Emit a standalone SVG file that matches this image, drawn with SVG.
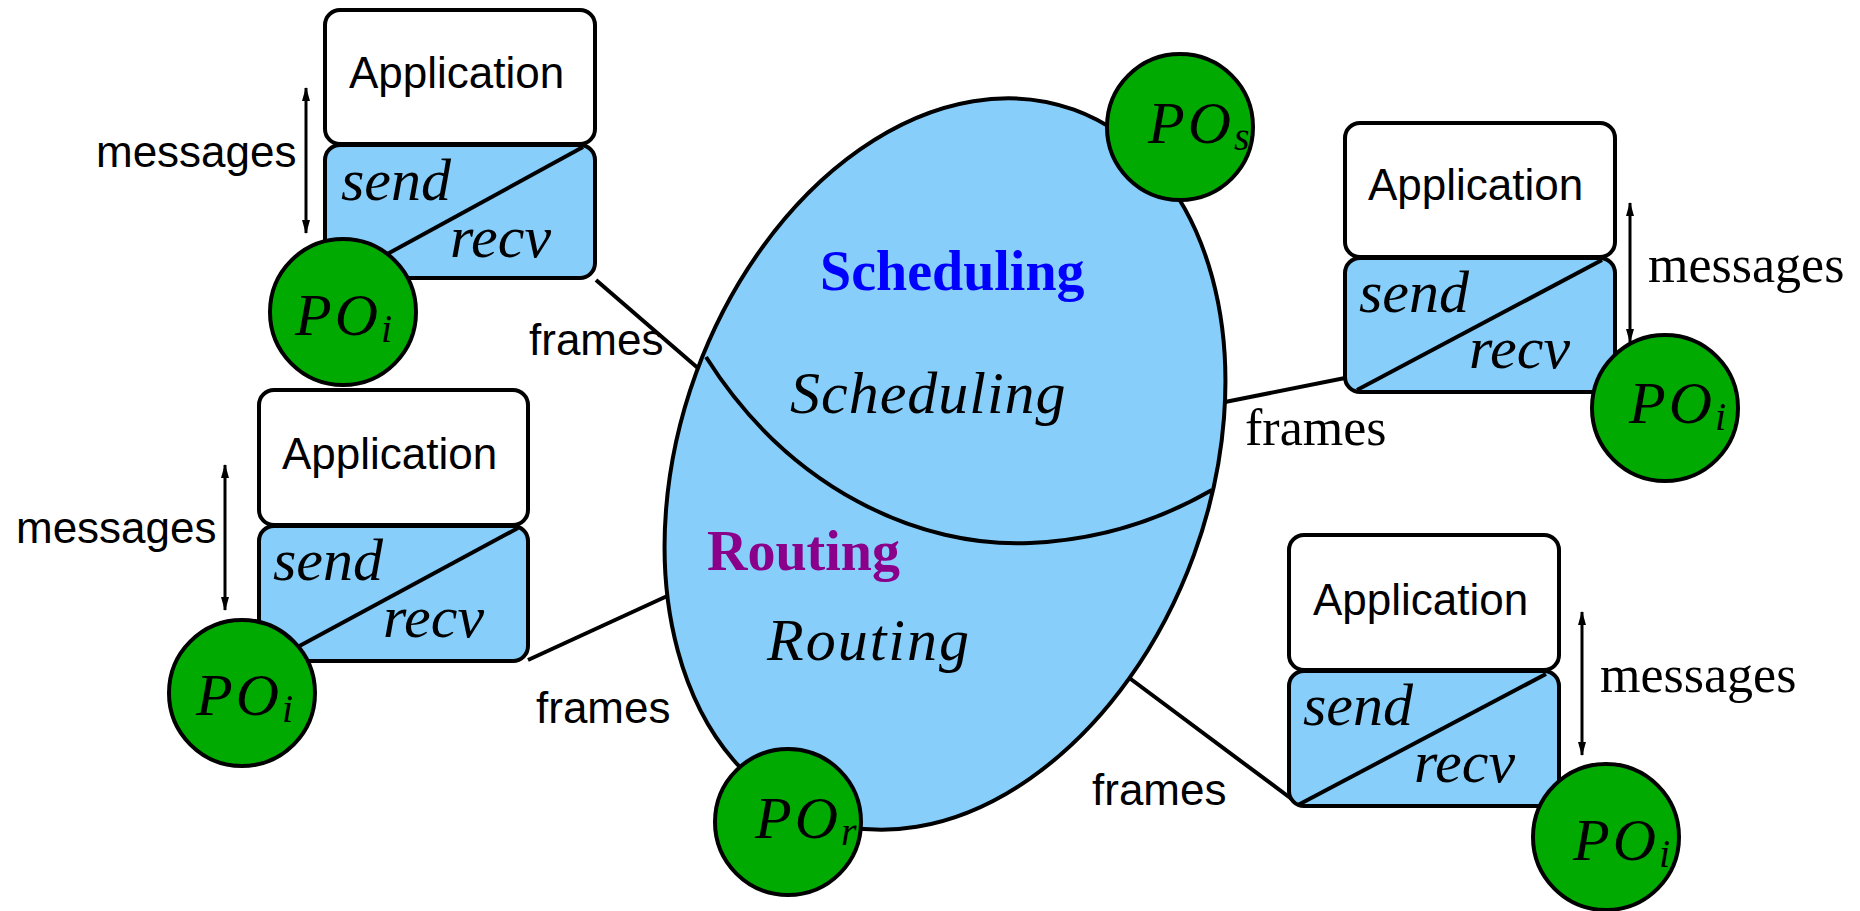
<svg xmlns="http://www.w3.org/2000/svg" width="1860" height="911" viewBox="0 0 1860 911">
<defs>
<style>
.app{fill:#ffffff;stroke:#000;stroke-width:4}
.proto{fill:#87cefa;stroke:#000;stroke-width:4}
.po{fill:#00aa00;stroke:#000;stroke-width:4}
.ln{stroke:#000;stroke-width:4;fill:none}
.arr{stroke:#000;stroke-width:3;fill:none;marker-start:url(#ah);marker-end:url(#ah)}
.sans{font-family:"Liberation Sans",Arial,sans-serif;font-size:44px;fill:#000}
.serif{font-family:"Liberation Serif","Times New Roman",serif;font-size:52px;fill:#000}
.math{font-family:"Liberation Serif","Times New Roman",serif;font-style:italic;font-size:60px;fill:#000}
.sub{font-size:40px;letter-spacing:0}
.pot{letter-spacing:3px}
.bold{font-family:"Liberation Serif","Times New Roman",serif;font-weight:bold;font-size:56px}
</style>
<marker id="ah" viewBox="0 0 14 8" refX="13" refY="4" markerWidth="14" markerHeight="8" markerUnits="userSpaceOnUse" orient="auto-start-reverse">
<path d="M0,0 L14,4 L0,8 z" fill="#000"/>
</marker>
</defs>
<rect width="1860" height="911" fill="#fff"/>

<g id="connectors">
<line class="ln" x1="596" y1="280" x2="699" y2="369"/>
<line class="ln" x1="528" y1="660" x2="676" y2="592"/>
<line class="ln" x1="1345" y1="378" x2="1220" y2="403"/>
<line class="ln" x1="1297" y1="803" x2="1120" y2="671"/>
<line class="arr" x1="306" y1="88" x2="306" y2="233"/>
<line class="arr" x1="225" y1="465" x2="225" y2="610"/>
<line class="arr" x1="1630" y1="203" x2="1630" y2="342"/>
<line class="arr" x1="1582" y1="612" x2="1582" y2="755"/>
</g>

<g id="core">
<ellipse cx="945" cy="464" rx="265" ry="377" transform="rotate(20 945 464)" fill="#87cefa" stroke="#000" stroke-width="4"/>
<path class="ln" d="M706,357 C790,490 920,548 1030,543 C1100,540 1160,520 1212,490"/>
<text class="bold" x="820" y="290" fill="#0000ff">Scheduling</text>
<text class="math" x="790" y="413" letter-spacing="1">Scheduling</text>
<text class="bold" x="707" y="570" fill="#8b008b">Routing</text>
<text class="math" x="767" y="660" letter-spacing="2">Routing</text>
</g>

<g id="po-s">
<circle class="po" cx="1180" cy="127" r="73"/>
<text class="math pot" x="1148" y="143">PO<tspan class="sub" dy="7">s</tspan></text>
</g>
<g id="po-r">
<circle class="po" cx="788" cy="822" r="73"/>
<text class="math pot" x="755" y="838">PO<tspan class="sub" dy="7">r</tspan></text>
</g>

<g id="node-tl">
<rect class="app" x="325" y="10" width="270" height="134" rx="15"/>
<rect class="proto" x="325" y="145" width="270" height="133" rx="15"/>
<line class="ln" x1="583" y1="147" x2="380" y2="258"/>
<text class="sans" x="349" y="88">Application</text>
<text class="math" x="341" y="200">send</text>
<text class="math" x="450" y="257">recv</text>
<circle class="po" cx="343" cy="312" r="73"/>
<text class="math pot" x="295" y="335">PO<tspan class="sub" dy="7">i</tspan></text>
<text class="sans" x="96" y="167">messages</text>
<text class="sans" x="529" y="355">frames</text>
</g>

<g id="node-ml">
<rect class="app" x="259" y="390" width="269" height="135" rx="15"/>
<rect class="proto" x="259" y="526" width="269" height="135" rx="15"/>
<line class="ln" x1="518" y1="528" x2="292" y2="650"/>
<text class="sans" x="282" y="469">Application</text>
<text class="math" x="273" y="580">send</text>
<text class="math" x="383" y="637">recv</text>
<circle class="po" cx="242" cy="693" r="73"/>
<text class="math pot" x="196" y="715">PO<tspan class="sub" dy="7">i</tspan></text>
<text class="sans" x="16" y="543">messages</text>
<text class="sans" x="536" y="723">frames</text>
</g>

<g id="node-tr">
<rect class="app" x="1345" y="123" width="270" height="134" rx="15"/>
<rect class="proto" x="1345" y="258" width="270" height="134" rx="15"/>
<line class="ln" x1="1602" y1="260" x2="1357" y2="390"/>
<text class="sans" x="1368" y="200">Application</text>
<text class="math" x="1359" y="312">send</text>
<text class="math" x="1469" y="368">recv</text>
<circle class="po" cx="1665" cy="408" r="73"/>
<text class="math pot" x="1629" y="423">PO<tspan class="sub" dy="7">i</tspan></text>
<text class="serif" x="1648" y="282">messages</text>
<text class="serif" x="1245" y="445" font-size="51">frames</text>
</g>

<g id="node-br">
<rect class="app" x="1289" y="535" width="270" height="135" rx="15"/>
<rect class="proto" x="1289" y="671" width="270" height="135" rx="15"/>
<line class="ln" x1="1546" y1="674" x2="1298" y2="805"/>
<text class="sans" x="1313" y="615">Application</text>
<text class="math" x="1303" y="725">send</text>
<text class="math" x="1414" y="782">recv</text>
<circle class="po" cx="1606" cy="837" r="73"/>
<text class="math pot" x="1573" y="860">PO<tspan class="sub" dy="7">i</tspan></text>
<text class="serif" x="1600" y="692">messages</text>
<text class="sans" x="1092" y="805">frames</text>
</g>
</svg>
